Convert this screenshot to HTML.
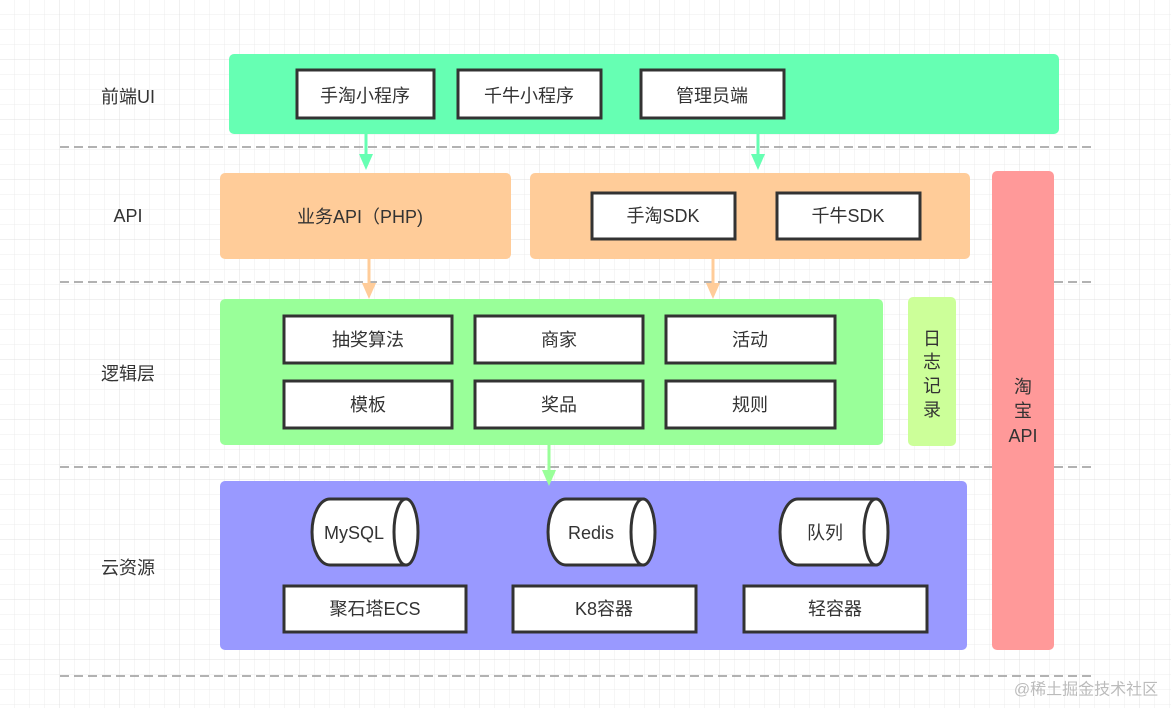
<!DOCTYPE html>
<html><head><meta charset="utf-8"><style>
html,body{margin:0;padding:0;background:#fff}
svg{display:block}
text{font-family:"Liberation Sans","Noto Sans CJK SC",sans-serif;fill:#333;font-size:18px;text-anchor:middle;dominant-baseline:central}
.b{fill:#fff;stroke:#333;stroke-width:3}
.d{stroke:#999;stroke-width:1.5;stroke-dasharray:9 5}
</style></head><body>
<svg width="1171" height="708" viewBox="0 0 1171 708">
<defs>
<pattern id="g" width="15" height="15" patternUnits="userSpaceOnUse"><path d="M15 0V15H0" fill="none" stroke="#ececec" stroke-width="1"/></pattern>
<pattern id="G" width="60" height="60" patternUnits="userSpaceOnUse"><rect width="60" height="60" fill="url(#g)"/><path d="M60 0V60H0" fill="none" stroke="#e0e0e0" stroke-width="1"/></pattern>
</defs>
<rect width="1171" height="708" fill="url(#G)"/>
<g class="d"><line x1="60" y1="147" x2="1095" y2="147"/><line x1="60" y1="282" x2="1095" y2="282"/><line x1="60" y1="467" x2="1095" y2="467"/><line x1="60" y1="676" x2="1095" y2="676"/></g>
<text x="128" y="97">前端UI</text><text x="128" y="216">API</text><text x="128" y="374">逻辑层</text><text x="128" y="568">云资源</text>
<!-- frontend -->
<rect x="229" y="54" width="830" height="80" rx="5" fill="#66FFB3"/>
<rect class="b" x="297" y="70" width="137" height="48"/><text x="365" y="96">手淘小程序</text>
<rect class="b" x="458" y="70" width="143" height="48"/><text x="529" y="96">千牛小程序</text>
<rect class="b" x="641" y="70" width="143" height="48"/><text x="712" y="96">管理员端</text>
<!-- api -->
<rect x="220" y="173" width="291" height="86" rx="5" fill="#FFCC99"/><text x="360" y="217">业务API（PHP)</text>
<rect x="530" y="173" width="440" height="86" rx="5" fill="#FFCC99"/>
<rect class="b" x="592" y="193" width="143" height="46"/><text x="663" y="216">手淘SDK</text>
<rect class="b" x="777" y="193" width="143" height="46"/><text x="848" y="216">千牛SDK</text>
<rect x="992" y="171" width="62" height="479" rx="5" fill="#FF9999"/>
<text x="1023" y="387">淘</text><text x="1023" y="411">宝</text><text x="1023" y="436">API</text>
<!-- logic -->
<rect x="220" y="299" width="663" height="146" rx="5" fill="#99FF99"/>
<rect class="b" x="284" y="316" width="168" height="47"/><text x="368" y="340">抽奖算法</text>
<rect class="b" x="475" y="316" width="168" height="47"/><text x="559" y="340">商家</text>
<rect class="b" x="666" y="316" width="169" height="47"/><text x="750" y="340">活动</text>
<rect class="b" x="284" y="381" width="168" height="47"/><text x="368" y="405">模板</text>
<rect class="b" x="475" y="381" width="168" height="47"/><text x="559" y="405">奖品</text>
<rect class="b" x="666" y="381" width="169" height="47"/><text x="750" y="405">规则</text>
<rect x="908" y="297" width="48" height="149" rx="5" fill="#CCFF99"/>
<text x="932" y="339">日</text><text x="932" y="362">志</text><text x="932" y="386">记</text><text x="932" y="410">录</text>
<!-- cloud -->
<rect x="220" y="481" width="747" height="169" rx="5" fill="#9999FF"/>
<g>
<path class="b" d="M406 499H330A18 33 0 0 0 330 565H406Z"/><ellipse class="b" cx="406" cy="532" rx="12" ry="33"/><text x="354" y="533">MySQL</text>
<path class="b" d="M643 499H566A18 33 0 0 0 566 565H643Z"/><ellipse class="b" cx="643" cy="532" rx="12" ry="33"/><text x="591" y="533">Redis</text>
<path class="b" d="M876 499H798A18 33 0 0 0 798 565H876Z"/><ellipse class="b" cx="876" cy="532" rx="12" ry="33"/><text x="825" y="533">队列</text>
</g>
<rect class="b" x="284" y="586" width="182" height="46"/><text x="375" y="609">聚石塔ECS</text>
<rect class="b" x="513" y="586" width="183" height="46"/><text x="604" y="609">K8容器</text>
<rect class="b" x="744" y="586" width="183" height="46"/><text x="835" y="609">轻容器</text>
<!-- arrows -->
<g stroke-width="3">
<line x1="366" y1="134" x2="366" y2="156" stroke="#66FFB3"/><path d="M359 154L373 154L366 170Z" fill="#66FFB3"/>
<line x1="758" y1="134" x2="758" y2="156" stroke="#66FFB3"/><path d="M751 154L765 154L758 170Z" fill="#66FFB3"/>
<line x1="369" y1="259" x2="369" y2="285" stroke="#FFCC99"/><path d="M362 283L376 283L369 299Z" fill="#FFCC99"/>
<line x1="713" y1="259" x2="713" y2="285" stroke="#FFCC99"/><path d="M706 283L720 283L713 299Z" fill="#FFCC99"/>
<line x1="549" y1="445" x2="549" y2="472" stroke="#99FF99"/><path d="M542 470L556 470L549 486Z" fill="#99FF99"/>
</g>
<text x="1086" y="690" style="fill:#bbb;font-size:16px">@稀土掘金技术社区</text>
</svg>
</body></html>
